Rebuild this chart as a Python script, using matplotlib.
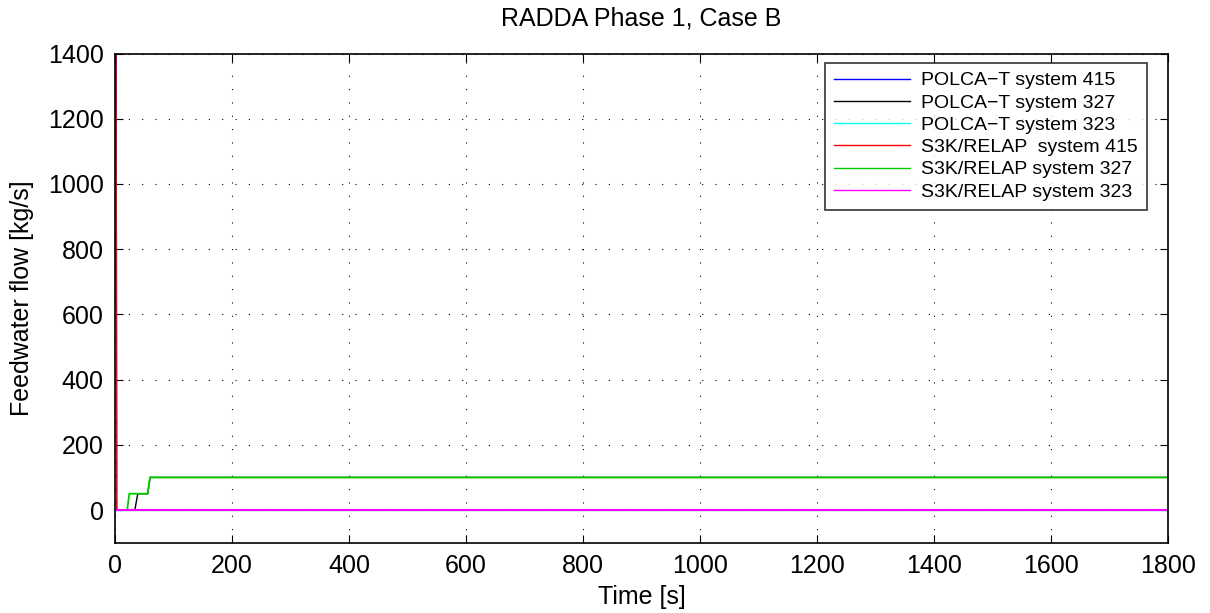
import matplotlib.pyplot as plt
import numpy as np

plt.rcParams['font.family'] = ['Liberation Sans', 'DejaVu Sans']

# time [s] and feedwater flow [kg/s]
t_spike = [0, 2, 3, 1800]
w_spike = [1400, 1400, 0, 0]

t_polca_327 = [0, 34, 39, 56, 60, 1800]
w_polca_327 = [0, 0, 50, 50, 100, 100]

t_zero = [0, 1800]
w_zero = [0, 0]

t_s3k_327 = [0, 21, 24.5, 56, 60, 1800]
w_s3k_327 = [0, 0, 50, 50, 100, 100]

labels = ["POLCA\u2212T system 415", "POLCA\u2212T system 327", "POLCA\u2212T system 323",
          "S3K/RELAP  system 415", "S3K/RELAP system 327", "S3K/RELAP system 323"]

fig = plt.figure(figsize=(12.1, 6.13), dpi=100)
ax = fig.add_axes([0.095, 0.1148, 0.8703, 0.7979])

ax.plot(t_spike, w_spike, color="#0000ff", lw=1, label=labels[0])
ax.plot(t_polca_327, w_polca_327, color="#000000", lw=1, label=labels[1])
ax.plot(t_zero, w_zero, color="#00ffff", lw=1, label=labels[2])
ax.plot(t_spike, w_spike, color="#ff0000", lw=1, label=labels[3])
ax.plot(t_s3k_327, w_s3k_327, color="#00cc00", lw=1.3, label=labels[4])
ax.plot(t_zero, w_zero, color="#ff00ff", lw=1.5, label=labels[5])

ax.set_xlim(0, 1800)
ax.set_ylim(-100, 1400)
ax.set_xticks(np.arange(0, 1801, 200))
ax.set_yticks(np.arange(0, 1401, 200))
ax.tick_params(direction='in', labelsize=18, length=6, top=True, right=True, pad=8)
ax.grid(True, color='black', linestyle=(0, (1, 11)), lw=0.8)

ax.set_xlabel("Time [s]", fontsize=18, labelpad=5)
ax.set_ylabel("Feedwater flow [kg/s]", fontsize=18, labelpad=10)
ax.set_title("RADDA Phase 1, Case B", fontsize=18, pad=20)

leg = ax.legend(loc='upper right', bbox_to_anchor=(0.980, 0.9806), fontsize=14,
                frameon=True, fancybox=False, edgecolor='black', borderaxespad=0,
                handlelength=3.9, handletextpad=0.6, labelspacing=0.24, borderpad=0.45)
leg.get_frame().set_linewidth(1.2)
for line in leg.get_lines():
    line.set_linewidth(1)
for sp in ax.spines.values():
    sp.set_linewidth(1.2)

fig.savefig("out.png", dpi=100)
